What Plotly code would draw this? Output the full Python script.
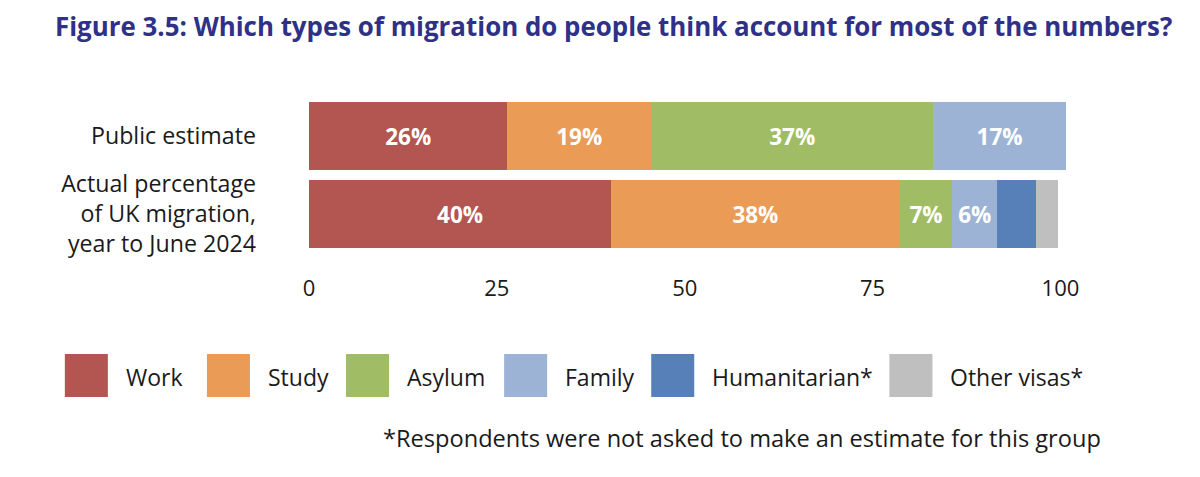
import plotly.graph_objects as go

# data
rows = ["Public estimate", "Actual percentage<br>of UK migration,<br>year to June 2024"]
groups = ["Work", "Study", "Asylum", "Family", "Humanitarian*", "Other visas*"]
public_estimate = [26.4, 19.1, 37.6, 17.6, None, None]
actual_share = [40.2, 38.4, 7.0, 6.0, 5.1, 3.0]
public_labels = ["26%", "19%", "37%", "17%", "", ""]
actual_labels = ["40%", "38%", "7%", "6%", "", ""]
colors = ["#B35550", "#EA9B56", "#A0BC65", "#9CB3D6", "#5780B8", "#BFBFBF"]
x_ticks = [0, 25, 50, 75, 100]

FONT = "Open Sans"
INK = "#1a1a1a"
OFF = 8                      # page body margin around the plot div
W, H = 1200 - 2 * OFF, 477 - 2 * OFF
X_MAX = 101                  # public estimate bar pokes a little past 100
# plot area in page pixels (0 at 309, 100 at 1060)
L, T, B = 309, 97, 253
R = L + (1060 - L) * X_MAX / 100


def px_x(x):
    return (x - L) / (R - L)


def px_y(y):
    return (B - y) / (B - T)


fig = go.Figure()
for i, g in enumerate(groups):
    fig.add_trace(go.Bar(
        y=rows,
        x=[public_estimate[i], actual_share[i]],
        orientation="h",
        name=g,
        marker=dict(color=colors[i], line=dict(width=0)),
        text=[public_labels[i], actual_labels[i]],
        textposition="inside",
        insidetextanchor="middle",
        textangle=0,
        textfont=dict(family=FONT, size=22.5, color="white", weight="bold"),
        showlegend=False,
    ))

# hand-made legend with big swatches
legend_x = [65, 207, 346, 504, 651, 889]
for i, g in enumerate(groups):
    x0 = legend_x[i]
    fig.add_shape(type="rect", xref="paper", yref="paper",
                  x0=px_x(x0), x1=px_x(x0 + 43), y0=px_y(397), y1=px_y(354),
                  fillcolor=colors[i], line=dict(width=0))
    fig.add_annotation(xref="paper", yref="paper", x=px_x(x0 + 59), y=px_y(377),
                       text=g, showarrow=False, xanchor="left", yanchor="middle",
                       font=dict(family=FONT, size=23, color=INK))

fig.add_annotation(xref="paper", yref="paper", x=px_x(1102), y=px_y(438),
                   text="*Respondents were not asked to make an estimate for this group",
                   showarrow=False, xanchor="right", yanchor="middle",
                   font=dict(family=FONT, size=23.6, color=INK))

fig.update_layout(
    width=W, height=H,
    barmode="stack",
    bargap=0.125,
    plot_bgcolor="white",
    paper_bgcolor="white",
    margin=dict(l=L - OFF, r=(OFF + W) - R, t=T - OFF, b=(OFF + H) - B),
    font=dict(family=FONT, size=22, color=INK),
    title=dict(text="<b>Figure 3.5: Which types of migration do people think account for most of the numbers?</b>",
               x=(55 - OFF) / W, xanchor="left", y=1 - (27 - OFF) / H, yanchor="middle",
               font=dict(family=FONT, size=25.9, color="#2E3187")),
    xaxis=dict(range=[0, X_MAX], tickvals=x_ticks, showgrid=False, zeroline=False,
               showline=False, ticks="outside", ticklen=16, tickcolor="rgba(0,0,0,0)",
               tickfont=dict(family=FONT, size=22, color=INK)),
    yaxis=dict(autorange="reversed", showgrid=False, showline=False, ticks="",
               ticklabelstandoff=52,
               tickfont=dict(family=FONT, size=23.2, color=INK)),
)

fig.write_html("out.html")
